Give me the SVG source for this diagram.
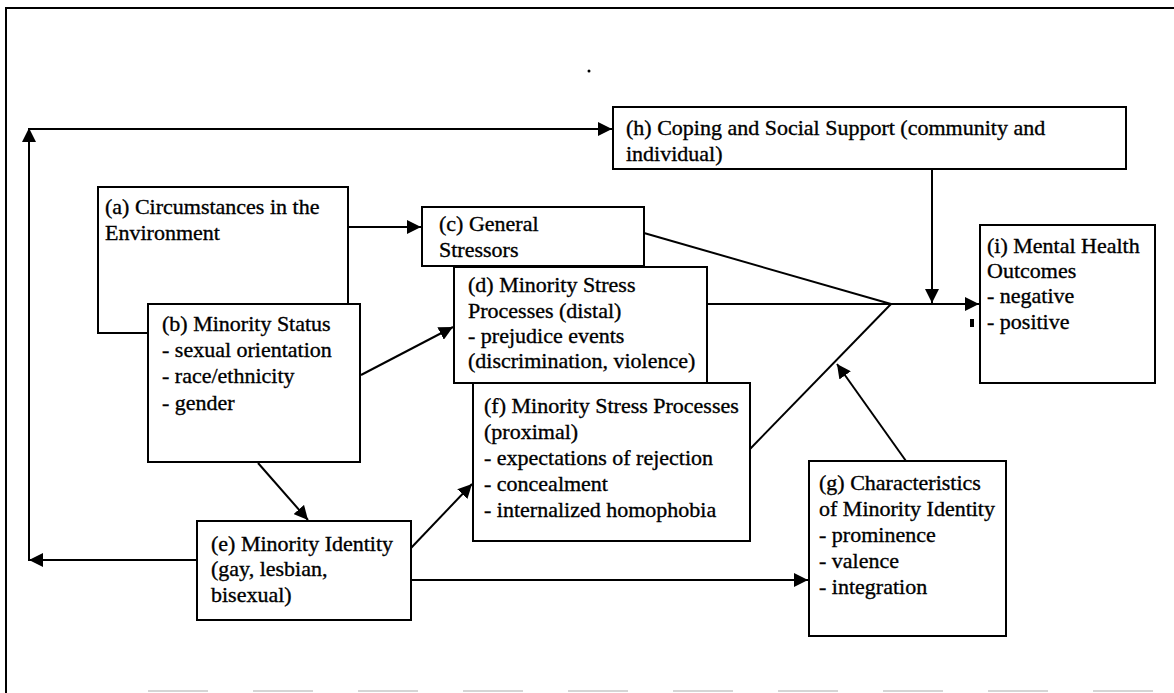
<svg xmlns="http://www.w3.org/2000/svg" width="1174" height="693" viewBox="0 0 1174 693">
  <style>
    .box { fill: #ffffff; stroke: #000000; stroke-width: 2; }
    .txt { font-family: "Liberation Serif", "Times New Roman", serif; font-size: 22px; fill: #000000; stroke: #000000; stroke-width: 0.35px; }
    .ln { fill: none; stroke: #000000; stroke-width: 2; }
    .arr { fill: none; stroke: #000000; stroke-width: 2; marker-end: url(#ah); }
  </style>
  <defs>
    <marker id="ah" viewBox="0 0 14 14" refX="14" refY="7" markerWidth="14" markerHeight="14" markerUnits="userSpaceOnUse" orient="auto">
      <path d="M0,0 L14,7 L0,14 z" fill="#000000"/>
    </marker>
  </defs>
  <rect width="1174" height="693" fill="#ffffff"/>
  <g id="frame">
    <path class="ln" d="M6,693 L6,8 L1174,8"/>
    <line x1="148" y1="691" x2="1174" y2="691" stroke="#c8c8c8" stroke-width="1.5" stroke-dasharray="60,45"/>
    <circle cx="589" cy="71" r="1.5" fill="#000000"/>
    <rect x="970" y="319" width="4" height="8" fill="#000000"/>
  </g>
  <g id="connectors">
    <path class="arr" d="M348,227 L421,227"/>
    <path class="arr" d="M361,375 L453,327"/>
    <path class="arr" d="M258,463 L308,520"/>
    <path class="arr" d="M411,548 L472,484"/>
    <path class="arr" d="M411,580 L808,580"/>
    <path class="arr" d="M197,560 L29,560"/>
    <path class="arr" d="M29,561 L29,128"/>
    <path class="arr" d="M29,129 L612,129"/>
    <path class="arr" d="M932,169 L932,303"/>
    <path class="ln" d="M644,233 L891,304"/>
    <path class="arr" d="M707,304 L979,304"/>
    <path class="ln" d="M750,449 L891,304"/>
    <path class="arr" d="M906,461 L837,364"/>
  </g>
  <g id="node-a">
    <rect class="box" x="98" y="187" width="250" height="146"/>
    <text class="txt" x="105" y="214">(a) Circumstances in the</text>
    <text class="txt" x="105" y="240">Environment</text>
  </g>
  <g id="node-b">
    <rect class="box" x="148" y="304" width="212" height="158"/>
    <text class="txt" x="162" y="331">(b) Minority Status</text>
    <text class="txt" x="162" y="357">- sexual orientation</text>
    <text class="txt" x="162" y="383">- race/ethnicity</text>
    <text class="txt" x="162" y="410">- gender</text>
  </g>
  <g id="node-c">
    <rect class="box" x="422" y="207" width="222" height="59"/>
    <text class="txt" x="439" y="231">(c) General</text>
    <text class="txt" x="439" y="257">Stressors</text>
  </g>
  <g id="node-d">
    <rect class="box" x="454" y="267" width="253" height="116"/>
    <text class="txt" x="468" y="292">(d) Minority Stress</text>
    <text class="txt" x="468" y="318">Processes (distal)</text>
    <text class="txt" x="468" y="343">- prejudice events</text>
    <text class="txt" x="468" y="368">(discrimination, violence)</text>
  </g>
  <g id="node-f">
    <rect class="box" x="473" y="383" width="277" height="158"/>
    <text class="txt" x="484" y="413">(f) Minority Stress Processes</text>
    <text class="txt" x="484" y="439">(proximal)</text>
    <text class="txt" x="484" y="465">- expectations of rejection</text>
    <text class="txt" x="484" y="491">- concealment</text>
    <text class="txt" x="484" y="517">- internalized homophobia</text>
  </g>
  <g id="node-e">
    <rect class="box" x="197" y="521" width="214" height="99"/>
    <text class="txt" x="211" y="551">(e) Minority Identity</text>
    <text class="txt" x="211" y="576">(gay, lesbian,</text>
    <text class="txt" x="211" y="602">bisexual)</text>
  </g>
  <g id="node-g">
    <rect class="box" x="809" y="461" width="197" height="175"/>
    <text class="txt" x="819" y="490">(g) Characteristics</text>
    <text class="txt" x="819" y="516">of Minority Identity</text>
    <text class="txt" x="819" y="542">- prominence</text>
    <text class="txt" x="819" y="568">- valence</text>
    <text class="txt" x="819" y="594">- integration</text>
  </g>
  <g id="node-h">
    <rect class="box" x="613" y="107" width="513" height="62"/>
    <text class="txt" x="626" y="135">(h) Coping and Social Support (community and</text>
    <text class="txt" x="626" y="161">individual)</text>
  </g>
  <g id="node-i">
    <rect class="box" x="980" y="225" width="175" height="158"/>
    <text class="txt" x="987" y="253">(i) Mental Health</text>
    <text class="txt" x="987" y="278">Outcomes</text>
    <text class="txt" x="987" y="303">- negative</text>
    <text class="txt" x="987" y="329">- positive</text>
  </g>
</svg>
